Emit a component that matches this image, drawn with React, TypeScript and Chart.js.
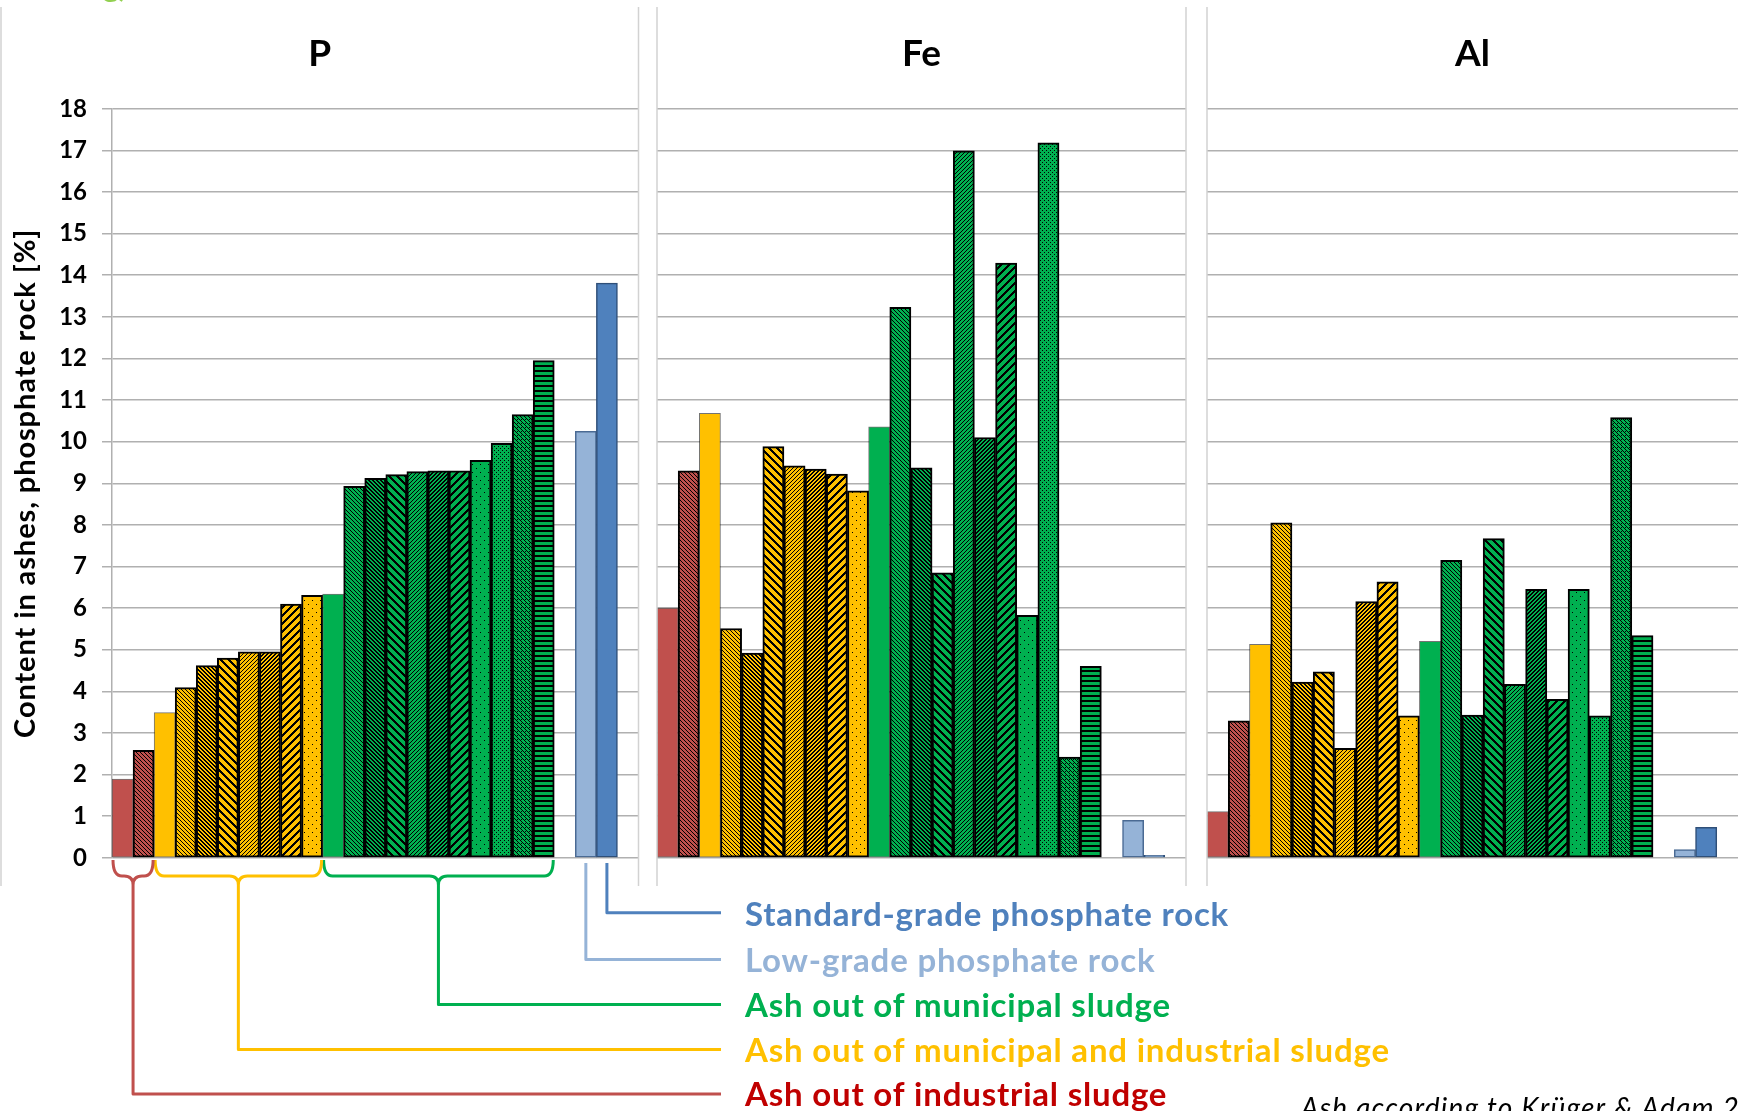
import React, { useEffect, useRef } from 'react';
import { Chart, registerables } from 'chart.js';

Chart.register(...registerables);

// ---------------- data ----------------
const categories = [
  'Industrial 1', 'Industrial 2',
  'Municipal & industrial 1', 'Municipal & industrial 2', 'Municipal & industrial 3', 'Municipal & industrial 4',
  'Municipal & industrial 5', 'Municipal & industrial 6', 'Municipal & industrial 7', 'Municipal & industrial 8',
  'Municipal 1', 'Municipal 2', 'Municipal 3', 'Municipal 4', 'Municipal 5', 'Municipal 6',
  'Municipal 7', 'Municipal 8', 'Municipal 9', 'Municipal 10', 'Municipal 11',
  'gap', 'Low-grade phosphate rock', 'Standard-grade phosphate rock', 'end',
];

const sampleGroup = [
  'ind', 'ind',
  'mi', 'mi', 'mi', 'mi', 'mi', 'mi', 'mi', 'mi',
  'mun', 'mun', 'mun', 'mun', 'mun', 'mun', 'mun', 'mun', 'mun', 'mun', 'mun',
  'none', 'low', 'std', 'none',
];

const pValues = [1.89, 2.58, 3.49, 4.09, 4.62, 4.8, 4.95, 4.95, 6.1, 6.31, 6.34, 8.93, 9.12, 9.21, 9.28, 9.3, 9.3, 9.55, 9.96, 10.65, 11.95, null, 10.25, 13.81, null];
const feValues = [6.0, 9.3, 10.68, 5.51, 4.92, 9.88, 9.42, 9.34, 9.22, 8.82, 10.36, 13.23, 9.37, 6.85, 16.99, 10.1, 14.29, 5.83, 17.18, 2.42, 4.6, null, 0.9, 0.06, null];
const alValues = [1.11, 3.29, 5.13, 8.05, 4.22, 4.47, 2.63, 6.16, 6.63, 3.41, 5.2, 7.15, 3.43, 7.67, 4.17, 6.45, 3.81, 6.45, 3.41, 10.58, 5.34, null, 0.2, 0.73, null];

const panelTitles = ['P', 'Fe', 'Al'];
const panelValues = [pValues, feValues, alValues];
const yMin = 0;
const yMax = 18;
const yStep = 1;
const yAxisTitle = 'Content in ashes, phosphate rock [%]';

const legendOrder = ['std', 'low', 'mun', 'mi', 'ind'];
const legendLabels: Record<string, string> = {
  std: 'Standard-grade phosphate rock',
  low: 'Low-grade phosphate rock',
  mun: 'Ash out of municipal sludge',
  mi: 'Ash out of municipal and industrial sludge',
  ind: 'Ash out of industrial sludge',
};
const sourceNote = 'Ash according to Krüger & Adam 2014';
const cornerLabel = 'g)';

// ---------------- styles ----------------
const barPattern = [
  'solid', 'fineDown',
  'solid', 'fineDown', 'denseDown', 'wideDown', 'fineUp', 'denseUp', 'wideUp', 'dotsSparse',
  'solid', 'fineDown', 'denseDown', 'wideDown', 'fineUp', 'denseUp', 'wideUp', 'dotsSparse', 'dotsDense', 'checker', 'horiz',
  'none', 'solid', 'solid', 'none',
];
const fillColors: Record<string, string> = {
  ind: '#C0504D', mi: '#FFC000', mun: '#00B050', low: '#95B3D7', std: '#4F81BD', none: '#ffffff',
};
const lineColors: Record<string, string> = {
  ind: '#C0504D', mi: '#FFC000', mun: '#00B050', low: '#95B3D7', std: '#4F81BD',
};
const textColors: Record<string, string> = {
  ind: '#C00000', mi: '#FFC000', mun: '#00B050', low: '#95B3D7', std: '#4F81BD',
};
const FONT = 'Lato, "Open Sans", "DejaVu Sans", sans-serif';
const GRID = '#B0B0B0';
const FRAME = '#D2D2D2';

const W = 1740;
const H = 1111;
const PLOT_TOP = 108.8;
const PLOT_BOTTOM = 857.8;
const panels = [
  { left: 112, right: 638.5, frameL: 1, frameR: 638.5 },
  { left: 657, right: 1186, frameL: 657, frameR: 1186 },
  { left: 1207, right: 1738, frameL: 1207, frameR: null as number | null },
];
const legendLineY = [912.7, 959.5, 1004.5, 1049.5, 1094];
const legendLineEndX = 721;
const legendTextX = 745;

function makePattern(ctx: CanvasRenderingContext2D, kind: string, color: string): CanvasPattern | string {
  if (kind === 'solid' || kind === 'none') return color;
  let size = 8;
  let test: (x: number, y: number) => boolean = () => false;
  const mod = (a: number, n: number) => ((a % n) + n) % n;
  switch (kind) {
    case 'fineDown': size = 4; test = (x, y) => mod(x - y, 4) === 0; break;
    case 'denseDown': size = 4; test = (x, y) => mod(x - y, 4) < 2; break;
    case 'wideDown': size = 8; test = (x, y) => mod(x - y, 8) < 3; break;
    case 'fineUp': size = 4; test = (x, y) => mod(x + y, 4) === 0; break;
    case 'denseUp': size = 4; test = (x, y) => mod(x + y, 4) < 2; break;
    case 'wideUp': size = 8; test = (x, y) => mod(x + y, 8) < 3; break;
    case 'dotsSparse': size = 8; test = (x, y) => (x === 0 && y === 0) || (x === 4 && y === 4); break;
    case 'dotsDense': size = 4; test = (x, y) => (x === 0 && y === 0) || (x === 2 && y === 2); break;
    case 'checker': size = 4; test = (x, y) => (x === 0 && y === 0) || (x === 2 && y === 2) || (x === 1 && y === 1) || (x === 3 && y === 3) || (x === 1 && y === 3); break;
    case 'horiz': size = 5; test = (_x, y) => y < 2; break;
  }
  const tile = document.createElement('canvas');
  tile.width = size;
  tile.height = size;
  const t = tile.getContext('2d')!;
  t.fillStyle = color;
  t.fillRect(0, 0, size, size);
  t.fillStyle = '#000000';
  for (let y = 0; y < size; y++) for (let x = 0; x < size; x++) if (test(x, y)) t.fillRect(x, y, 1, 1);
  return ctx.createPattern(tile, 'repeat') || color;
}

function setSpacing(ctx: CanvasRenderingContext2D, px: number) {
  (ctx as any).letterSpacing = `${px}px`;
}

function framePlugin(idx: number) {
  return {
    id: 'frame' + idx,
    afterDraw(chart: any) {
      const ctx: CanvasRenderingContext2D = chart.ctx;
      const p = panels[idx];
      ctx.save();
      ctx.strokeStyle = FRAME;
      ctx.lineWidth = 1.5;
      const xs = [p.frameL, p.frameR].filter((v) => v !== null) as number[];
      xs.forEach((x) => {
        ctx.beginPath();
        ctx.moveTo(x, 7);
        ctx.lineTo(x, 886);
        ctx.stroke();
      });
      const cx = p.frameR !== null ? (p.frameL + p.frameR) / 2 : (p.frameL + p.right) / 2;
      ctx.fillStyle = '#000';
      ctx.font = `bold 37px ${FONT}`;
      ctx.textAlign = 'center';
      ctx.textBaseline = 'alphabetic';
      ctx.fillText(panelTitles[idx], cx, 66);
      ctx.restore();
    },
  };
}

const annotationPlugin = {
  id: 'annotations',
  afterDraw(chart: any) {
    const ctx: CanvasRenderingContext2D = chart.ctx;
    const xs = chart.scales.x;
    const slot = xs.getPixelForValue(1) - xs.getPixelForValue(0);
    ctx.save();

    // y-axis title
    ctx.save();
    ctx.translate(35, (chart.chartArea.top + chart.chartArea.bottom) / 2);
    ctx.rotate(-Math.PI / 2);
    ctx.font = `bold 29px ${FONT}`;
    setSpacing(ctx, 0.9);
    ctx.fillStyle = '#000';
    ctx.textAlign = 'center';
    ctx.textBaseline = 'alphabetic';
    ctx.fillText(yAxisTitle, 0, 0);
    ctx.restore();

    // corner label (cut off at top)
    ctx.font = `bold 30px ${FONT}`;
    ctx.fillStyle = '#92D050';
    ctx.textAlign = 'left';
    ctx.fillText(cornerLabel, 103, -3);

    ctx.lineWidth = 3;
    ctx.lineJoin = 'round';
    legendOrder.forEach((key, k) => {
      const lineY = legendLineY[k];
      const idxs = sampleGroup.map((g, i) => (g === key ? i : -1)).filter((i) => i >= 0);
      const first = idxs[0];
      const last = idxs[idxs.length - 1];
      ctx.strokeStyle = lineColors[key];
      ctx.beginPath();
      if (key === 'std' || key === 'low') {
        const x = xs.getPixelForValue(first);
        ctx.moveTo(x, 863);
        ctx.lineTo(x, lineY);
        ctx.lineTo(legendLineEndX, lineY);
      } else {
        const x0 = xs.getPixelForValue(first) - slot / 2 + 1;
        const x1 = xs.getPixelForValue(last) + slot / 2 - 1;
        const xm = (x0 + x1) / 2;
        const yTop = 860;
        const yMid = 876;
        const r = 9;
        ctx.moveTo(x0, yTop);
        ctx.quadraticCurveTo(x0, yMid, x0 + r, yMid);
        ctx.lineTo(xm - r, yMid);
        ctx.quadraticCurveTo(xm, yMid, xm, yMid + r);
        ctx.moveTo(x1, yTop);
        ctx.quadraticCurveTo(x1, yMid, x1 - r, yMid);
        ctx.lineTo(xm + r, yMid);
        ctx.quadraticCurveTo(xm, yMid, xm, yMid + r);
        ctx.lineTo(xm, lineY);
        ctx.lineTo(legendLineEndX, lineY);
      }
      ctx.stroke();

      ctx.font = `bold 33px ${FONT}`;
      setSpacing(ctx, 0.8);
      ctx.fillStyle = textColors[key];
      ctx.textAlign = 'left';
      ctx.textBaseline = 'alphabetic';
      ctx.fillText(legendLabels[key], legendTextX, lineY + (k === 0 ? 13.5 : 12));
      setSpacing(ctx, 0);
    });

    ctx.font = `italic 28px ${FONT}`;
    setSpacing(ctx, 1.2);
    ctx.fillStyle = '#000';
    ctx.textAlign = 'left';
    ctx.fillText(sourceNote, 1301, 1118);
    setSpacing(ctx, 0);
    ctx.restore();
  },
};

function buildChart(canvas: HTMLCanvasElement, idx: number): Chart {
  const ctx = canvas.getContext('2d')!;
  const first = idx === 0;
  const p = panels[idx];
  const bg = categories.map((_, i) => makePattern(ctx, barPattern[i], fillColors[sampleGroup[i]]));
  const borderColor = categories.map((_, i) => {
    const g = sampleGroup[i];
    if (g === 'low') return '#4A6A93';
    if (g === 'std') return '#2F4F78';
    return barPattern[i] === 'solid' ? 'rgba(0,0,0,0.55)' : '#000000';
  });
  const borderWidth = categories.map((_, i) => {
    const g = sampleGroup[i];
    if (g === 'low' || g === 'std') return 1.5;
    return barPattern[i] === 'solid' ? 1 : 2;
  });
  return new Chart(ctx, {
    type: 'bar',
    data: {
      labels: categories,
      datasets: [
        {
          label: panelTitles[idx],
          data: panelValues[idx] as any,
          backgroundColor: bg as any,
          borderColor,
          borderWidth,
          borderSkipped: false,
          barPercentage: 1,
          categoryPercentage: 1,
        },
      ],
    },
    options: {
      responsive: false,
      animation: false,
      devicePixelRatio: 1,
      events: [],
      layout: {
        padding: {
          left: first ? 0 : p.left,
          right: W - p.right,
          top: PLOT_TOP,
          bottom: H - PLOT_BOTTOM,
        },
      },
      scales: {
        x: { display: false, offset: true },
        y: {
          min: yMin,
          max: yMax,
          ticks: {
            display: first,
            stepSize: yStep,
            color: '#000',
            padding: 15,
            font: { family: FONT, size: 24, weight: 'bold' },
          },
          grid: { color: GRID, lineWidth: 1.5, drawTicks: first, tickLength: 10 },
          border: { display: first, color: GRID, width: 1.5 },
          afterFit: (scale: any) => {
            scale.width = first ? p.left : 0;
          },
        } as any,
      },
      plugins: {
        legend: { display: false },
        title: { display: false },
        tooltip: { enabled: false },
      },
    },
    plugins: first ? [framePlugin(idx), annotationPlugin] : [framePlugin(idx)],
  } as any);
}

export default function App() {
  const refs = [useRef<HTMLCanvasElement>(null), useRef<HTMLCanvasElement>(null), useRef<HTMLCanvasElement>(null)];
  useEffect(() => {
    let charts: Chart[] = [];
    let cancelled = false;
    const create = () => {
      if (cancelled) return;
      charts = refs.map((r, i) => buildChart(r.current!, i));
    };
    const fontsApi: any = (document as any).fonts;
    if (fontsApi && fontsApi.load) {
      Promise.all([
        fontsApi.load(`bold 32px Lato`),
        fontsApi.load(`italic 24px Lato`),
      ]).then(create, create);
    } else {
      create();
    }
    return () => {
      cancelled = true;
      charts.forEach((c) => c.destroy());
    };
  }, []);

  return (
    <div style={{ position: 'absolute', left: 0, top: 0, width: W, height: H, background: '#fff', overflow: 'hidden' }}>
      {refs.map((r, i) => (
        <canvas
          key={i}
          ref={r}
          width={W}
          height={H}
          style={{ position: 'absolute', left: 0, top: 0, width: W, height: H, display: 'block' }}
        />
      ))}
    </div>
  );
}
